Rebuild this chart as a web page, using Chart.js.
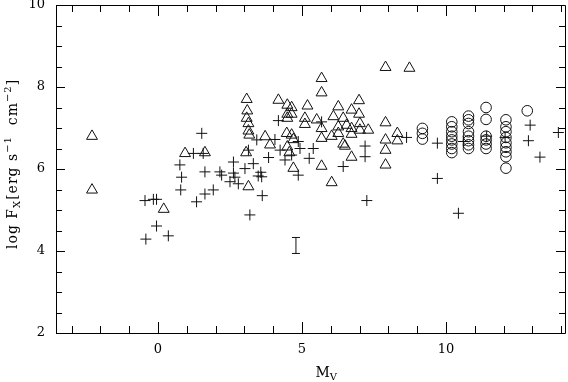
<!DOCTYPE html>
<html>
<head>
<meta charset="utf-8">
<script src="https://cdn.jsdelivr.net/npm/chart.js@4.4.0/dist/chart.umd.min.js"></script>
<style>
  html, body { margin: 0; padding: 0; background: #fff; }
  #wrap { width: 568px; height: 382px; position: relative; }
</style>
</head>
<body>
<div id="wrap"><canvas id="chart"></canvas></div>
<script>
// triangles
const triX = [-2.29, -2.29, 0.20, 0.94, 1.63, 3.08, 3.10, 3.08, 3.14, 3.14, 3.17, 4.18, 4.49, 4.64, 4.49, 4.64, 4.49,
  5.19, 5.10, 5.10, 3.72, 4.47, 4.64, 4.70, 3.89, 3.06, 4.49, 4.56, 4.70, 3.14, 5.68, 5.68, 6.26, 6.98, 6.72, 6.98,
  5.51, 5.68, 6.09, 6.43, 6.26, 6.55, 6.72, 7.01, 7.01, 7.30, 6.72, 6.26, 6.03, 5.68, 6.43, 6.49, 6.72, 5.68, 6.03,
  7.90, 7.90, 7.90, 7.90, 7.90, 8.73, 8.31, 8.31];
const triY = [6.80, 5.49, 5.02, 6.38, 6.40, 7.70, 7.42, 7.24, 7.11, 6.93, 6.83, 7.68, 7.56, 7.50, 7.34, 7.34, 7.24,
  7.54, 7.24, 7.09, 6.79, 6.87, 6.83, 6.72, 6.59, 6.40, 6.54, 6.40, 6.02, 5.57, 8.21, 7.86, 7.52, 7.67, 7.44, 7.34,
  7.20, 6.99, 7.28, 7.24, 7.03, 7.07, 6.99, 7.11, 6.95, 6.95, 6.85, 6.87, 6.80, 6.75, 6.61, 6.56, 6.29, 6.07, 5.67,
  8.48, 7.13, 6.71, 6.46, 6.10, 8.46, 6.87, 6.69];

// plus signs
const crossX = [1.23, 0.76, 0.82, 0.79, 1.63, 1.63, 1.34, -0.45, -0.16, -0.05, -0.05, 0.36, -0.42, 1.52, 4.18, 3.43,
  4.06, 4.87, 1.57, 3.14, 4.24, 4.93, 5.25, 3.84, 4.41, 4.64, 2.62, 2.15, 2.21, 2.62, 2.67, 3.02, 3.31, 3.57, 3.48,
  3.60, 2.50, 2.79, 1.92, 3.62, 3.19, 4.87, 5.68, 5.39, 7.19, 7.19, 6.43, 8.63, 9.70, 9.70, 7.25, 10.43, 12.92,
  12.86, 13.26, 13.90, 10.60, 11.41, 12.05];
const crossY = [6.38, 6.10, 5.80, 5.49, 5.93, 5.39, 5.20, 5.23, 5.26, 5.26, 4.61, 4.37, 4.29, 6.87, 7.18, 6.71,
  6.72, 6.67, 6.38, 6.46, 6.46, 6.50, 6.26, 6.28, 6.22, 6.34, 6.17, 5.93, 5.85, 5.90, 5.80, 6.01, 6.13, 5.92, 5.83,
  5.81, 5.69, 5.64, 5.49, 5.35, 4.88, 5.85, 7.15, 6.50, 6.56, 6.30, 6.06, 6.77, 6.63, 5.77, 5.23, 4.92, 7.07,
  6.69, 6.29, 6.89, 6.67, 6.80, 6.77];

// circles
const circX = [9.18, 9.18, 9.18,
  10.20, 10.20, 10.20, 10.20, 10.20, 10.20, 10.20, 10.20,
  10.78, 10.78, 10.78, 10.78, 10.78, 10.78, 10.78, 10.78,
  11.39, 11.39, 11.39, 11.39, 11.39, 11.39,
  12.08, 12.08, 12.08, 12.08, 12.08, 12.08, 12.08, 12.08, 12.08,
  12.82];
const circY = [6.99, 6.87, 6.73,
  7.15, 7.03, 6.91, 6.80, 6.71, 6.61, 6.50, 6.40,
  7.29, 7.20, 7.11, 6.91, 6.80, 6.69, 6.59, 6.50,
  7.50, 7.21, 6.80, 6.71, 6.61, 6.50,
  7.20, 7.03, 6.91, 6.77, 6.64, 6.53, 6.42, 6.30, 6.02,
  7.42];

// typical error bar
const errX = [4.79, 4.79];
const errY = [3.94, 4.33];

const xTicks = [0, 5, 10];
const yTicks = [2, 4, 6, 8, 10];

const FONT = '"DejaVu Serif", serif';
const pts = (xs, ys) => xs.map((x, i) => ({ x: x, y: ys[i] }));

// frame, inward ticks on all four sides and the axis titles
const framePlugin = {
  id: 'frame',
  afterDraw(chart) {
    const ctx = chart.ctx, a = chart.chartArea;
    const sx = chart.scales.x, sy = chart.scales.y;
    ctx.save();
    ctx.strokeStyle = '#000';
    ctx.lineWidth = 1;
    ctx.beginPath();
    ctx.rect(Math.round(a.left) + 0.5, Math.round(a.top) + 0.5,
      Math.round(a.right - a.left), Math.round(a.bottom - a.top));
    for (let v = Math.ceil(sx.min); v <= sx.max; v++) {
      const px = Math.round(sx.getPixelForValue(v)) + 0.5;
      const len = v % 5 === 0 ? 11 : 7;
      ctx.moveTo(px, a.bottom); ctx.lineTo(px, a.bottom - len);
      ctx.moveTo(px, a.top); ctx.lineTo(px, a.top + len);
    }
    for (let v = sy.min; v <= sy.max; v += 0.5) {
      const py = Math.round(sy.getPixelForValue(v)) + 0.5;
      const len = v % 2 === 0 ? 9 : 6;
      ctx.moveTo(a.left, py); ctx.lineTo(a.left + len, py);
      ctx.moveTo(a.right, py); ctx.lineTo(a.right - len, py);
    }
    ctx.stroke();

    ctx.fillStyle = '#000';
    ctx.textBaseline = 'alphabetic';
    // x title: M_V
    const cx = (a.left + a.right) / 2 + 5;
    ctx.font = '14px ' + FONT;
    ctx.textAlign = 'left';
    ctx.fillText('M', cx, 377);
    const mw = ctx.measureText('M').width;
    ctx.font = '10px ' + FONT;
    ctx.fillText('V', cx + mw, 380);

    // y title: log F_X[erg s^-1 cm^-2]
    const parts = [
      ['log F', 14, 0], ['X', 10, 3], ['[erg s', 14, 0], ['\u22121', 10, -6],
      ['  cm', 14, 0], ['\u22122', 10, -6], [']', 14, 0]
    ];
    ctx.save();
    ctx.translate(17, 249);
    ctx.rotate(-Math.PI / 2);
    ctx.letterSpacing = '1px';
    let off = 0;
    for (const [t, size, dy] of parts) {
      ctx.font = size + 'px ' + FONT;
      ctx.fillText(t, off, dy);
      off += ctx.measureText(t).width;
    }
    ctx.restore();
    ctx.restore();
  }
};

new Chart(document.getElementById('chart'), {
  type: 'scatter',
  data: {
    datasets: [
      { data: pts(triX, triY), pointStyle: 'triangle', radius: 6.3, borderWidth: 1,
        borderColor: '#111', backgroundColor: 'rgba(0,0,0,0)' },
      { data: pts(crossX, crossY), pointStyle: 'cross', radius: 5.5, borderWidth: 1,
        borderColor: '#111', backgroundColor: 'rgba(0,0,0,0)' },
      { data: pts(circX, circY), pointStyle: 'circle', radius: 5.3, borderWidth: 1,
        borderColor: '#111', backgroundColor: 'rgba(0,0,0,0)' },
      { type: 'line', data: pts(errX, errY), showLine: true, pointStyle: 'line', radius: 4,
        borderWidth: 1, borderColor: '#111', backgroundColor: '#111' }
    ]
  },
  options: {
    responsive: true,
    maintainAspectRatio: false,
    animation: false,
    devicePixelRatio: 1,
    layout: { autoPadding: false, padding: { top: 5, right: 3, left: 0, bottom: 0 } },
    plugins: { legend: { display: false }, tooltip: { enabled: false } },
    scales: {
      x: {
        type: 'linear', min: -3.54, max: 14.13,
        afterBuildTicks: s => { s.ticks = xTicks.map(v => ({ value: v })); },
        afterFit: s => { s.height = 49; s.paddingLeft = 0; s.paddingRight = 0; },
        grid: { display: false, drawTicks: false },
        border: { display: false },
        ticks: { padding: 9, color: '#000', font: { family: FONT, size: 13 }, maxRotation: 0 }
      },
      y: {
        type: 'linear', min: 2, max: 10,
        afterBuildTicks: s => { s.ticks = yTicks.map(v => ({ value: v })); },
        afterFit: s => { s.width = 56; s.paddingTop = 0; s.paddingBottom = 0; },
        grid: { display: false, drawTicks: false },
        border: { display: false },
        ticks: { padding: 11, color: '#000', font: { family: FONT, size: 13 } }
      }
    }
  },
  plugins: [framePlugin]
});
</script>
</body>
</html>
